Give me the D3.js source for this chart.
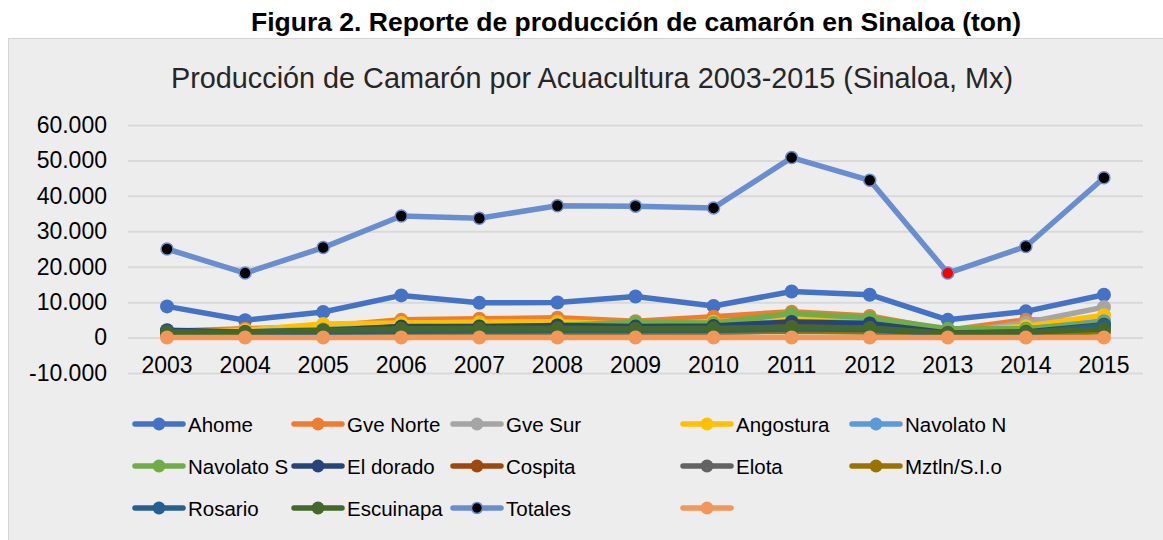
<!DOCTYPE html>
<html>
<head>
<meta charset="utf-8">
<script src="https://cdn.jsdelivr.net/npm/d3@7"></script>
<style>
  body { margin: 0; background: #fff; }
  svg { display: block; font-family: "Liberation Sans", Arial, sans-serif; }
</style>
</head>
<body>
<div id="chart"></div>
<script>
// data (ton)
const years = ["2003","2004","2005","2006","2007","2008","2009","2010","2011","2012","2013","2014","2015"]

const ahome      = [8800, 4900, 7200, 11900, 9800, 9900, 11600, 8900, 13000, 12100, 5000, 7400, 12100]
const gveNorte   = [1800, 2500, 3100, 5000, 5300, 5600, 4600, 5900, 7300, 6100, 2100, 5000, 4600]
const gveSur     = [900, 1000, 1300, 1800, 1900, 2000, 1800, 2000, 2500, 2300, 1000, 4200, 8600]
const angostura  = [1500, 2100, 3800, 4100, 4300, 4500, 3700, 4500, 5200, 4600, 1700, 3200, 6300]
const navolatoN  = [1300, 1600, 2300, 2900, 3000, 3200, 3300, 3400, 4500, 4200, 1600, 2400, 4600]
const navolatoS  = [1100, 1500, 2100, 3000, 3100, 3400, 4300, 4100, 6800, 5600, 2500, 2500, 4200]
const elDorado   = [2100, 1600, 2000, 3100, 3100, 3400, 3100, 3300, 4400, 4000, 1300, 1600, 3600]
const cospita    = [1600, 1300, 1500, 1900, 2000, 2100, 2200, 2400, 3000, 2600, 900, 1300, 2200]
const elota      = [1000, 900, 1100, 1400, 1500, 1500, 1500, 1600, 1900, 1700, 800, 1000, 1800]
const mztln      = [900, 800, 1000, 1300, 1300, 1400, 1400, 1500, 1800, 1600, 700, 900, 1700]
const rosario    = [1700, 1200, 1400, 1800, 1900, 2000, 2000, 2100, 2400, 2300, 1000, 1300, 3400]
const escuinapa  = [1400, 1500, 2000, 2500, 2600, 2600, 2500, 2600, 2900, 2700, 1200, 1500, 2400]
const totales    = [25000, 18200, 25400, 34300, 33700, 37200, 37100, 36600, 50800, 44400, 18200, 25700, 45100]
const sinNombre  = [0, 0, 0, 0, 0, 0, 0, 0, 0, 0, 0, 0, 0]

const seriesNames = ["Ahome","Gve Norte","Gve Sur","Angostura","Navolato N","Navolato S","El dorado","Cospita","Elota","Mztln/S.I.o","Rosario","Escuinapa","Totales",""]
const seriesValues = [ahome, gveNorte, gveSur, angostura, navolatoN, navolatoS, elDorado, cospita, elota, mztln, rosario, escuinapa, totales, sinNombre]
const seriesColors = ["#4472C4","#ED7D31","#A5A5A5","#FFC000","#5B9BD5","#70AD47","#264478","#9E480E","#636363","#997300","#255E91","#43682B","#698ED0","#F1975A"]

const yTicks = [-10000, 0, 10000, 20000, 30000, 40000, 50000, 60000]

const pageTitle = "Figura 2. Reporte de producción de camarón en Sinaloa (ton)"
const chartTitle = "Producción de Camarón por Acuacultura 2003-2015 (Sinaloa, Mx)"

const width = 1163, height = 540

const svg = d3.select("#chart").append("svg")
    .attr("width", width)
    .attr("height", height)

// outer chart area
svg.append("rect")
    .attr("x", 8.5).attr("y", 38.5)
    .attr("width", 1170).attr("height", 520)
    .attr("fill", "#EDEDED")
    .attr("stroke", "#D4D4D4")

svg.append("text")
    .attr("x", 636).attr("y", 31)
    .attr("text-anchor", "middle")
    .attr("font-weight", "bold")
    .attr("font-size", 26.5)
    .attr("fill", "#000")
    .text(pageTitle)

svg.append("text")
    .attr("x", 592).attr("y", 88)
    .attr("text-anchor", "middle")
    .attr("font-size", 28.8)
    .attr("fill", "#262626")
    .text(chartTitle)

const x = d3.scaleBand()
    .domain(years)
    .range([128, 1143])

const y = d3.scaleLinear()
    .domain([-10000, 60000])
    .range([373, 125])

const esLocale = d3.formatLocale({decimal: ",", thousands: ".", grouping: [3], currency: ["$", ""], minus: "-"})
const fmt = esLocale.format(",")

// gridlines + y labels
const yAxis = svg.append("g")
    .attr("transform", "translate(128,0)")
    .call(d3.axisLeft(y).tickValues(yTicks).tickFormat(fmt).tickSize(-1015).tickPadding(21))
yAxis.select(".domain").remove()
yAxis.selectAll("line").attr("stroke", "#D9D9D9").attr("stroke-width", 2)
yAxis.selectAll("text").attr("font-size", 23).attr("fill", "#000").attr("font-family", "Liberation Sans, Arial, sans-serif")

// x labels sit below the zero line
const xAxis = svg.append("g")
    .attr("transform", "translate(0," + y(0) + ")")
    .call(d3.axisBottom(x).tickSize(0).tickPadding(19))
xAxis.select(".domain").remove()
xAxis.selectAll("text").attr("font-size", 23).attr("fill", "#000").attr("font-family", "Liberation Sans, Arial, sans-serif")

const cx = d => x(d) + x.bandwidth() / 2

const line = d3.line()
    .x((d, i) => cx(years[i]))
    .y(d => y(d))

seriesValues.forEach((vals, k) => {
    const g = svg.append("g")
    const isTotal = seriesNames[k] === "Totales"
    g.append("path")
        .datum(vals)
        .attr("d", line)
        .attr("fill", "none")
        .attr("stroke", seriesColors[k])
        .attr("stroke-width", 5.5)
        .attr("stroke-linejoin", "round")
    g.selectAll("circle")
        .data(vals).enter().append("circle")
        .attr("cx", (d, i) => cx(years[i]))
        .attr("cy", d => y(d))
        .attr("r", isTotal ? 6 : 7)
        .attr("fill", (d, i) => isTotal ? (years[i] === "2013" ? "#FF0000" : "#000") : seriesColors[k])
        .attr("stroke", seriesColors[k])
        .attr("stroke-width", isTotal ? 1.5 : 0)
})

// legend
const legendCols = [135, 294, 453, 683, 852]
const legendRows = [424, 466, 508]
seriesNames.forEach((name, k) => {
    const lx = legendCols[k % 5]
    const ly = legendRows[Math.floor(k / 5)]
    const isTotal = name === "Totales"
    const g = svg.append("g").attr("transform", "translate(" + lx + "," + ly + ")")
    g.append("line")
        .attr("x1", 0).attr("x2", 48)
        .attr("stroke", seriesColors[k])
        .attr("stroke-width", 5.5)
        .attr("stroke-linecap", "round")
    g.append("circle")
        .attr("cx", 24).attr("r", isTotal ? 5.5 : 6.5)
        .attr("fill", isTotal ? "#000" : seriesColors[k])
        .attr("stroke", seriesColors[k])
        .attr("stroke-width", isTotal ? 1.5 : 0)
    g.append("text")
        .attr("x", 53).attr("y", 7.5)
        .attr("font-size", 20.5)
        .attr("fill", "#000")
        .text(name)
})
</script>
</body>
</html>
